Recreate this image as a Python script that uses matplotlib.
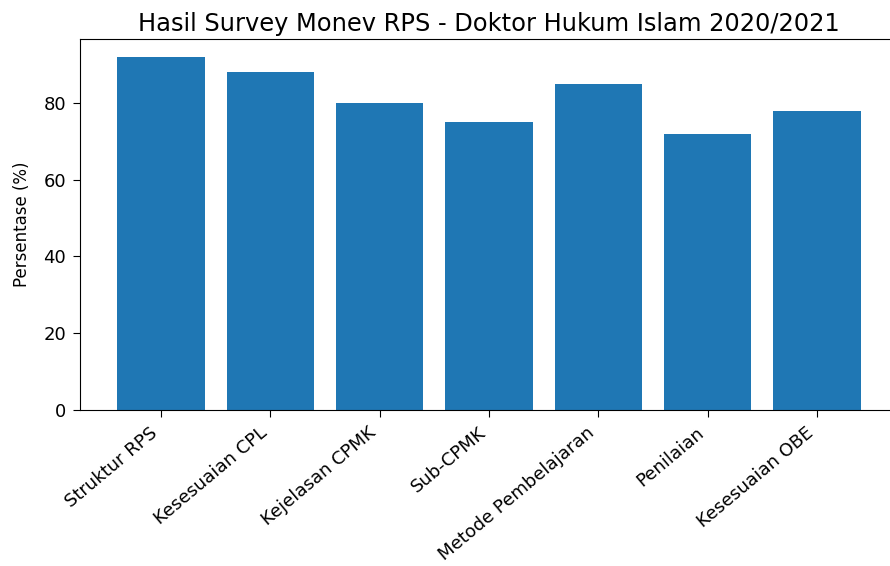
import matplotlib
matplotlib.use("Agg")
import matplotlib.pyplot as plt

categories = ["Struktur RPS", "Kesesuaian CPL", "Kejelasan CPMK", "Sub-CPMK",
              "Metode Pembelajaran", "Penilaian", "Kesesuaian OBE"]
values = [92, 88, 80, 75, 85, 72, 78]
title = "Hasil Survey Monev RPS - Doktor Hukum Islam 2020/2021"
ylabel = "Persentase (%)"

fig = plt.figure(figsize=(8.9, 5.66), dpi=100)
ax = fig.add_axes([0.0899, 0.2756, 0.919, 0.655])
ax.bar(categories, values, color="#1f77b4", width=0.8)
ax.set_title(title, fontsize=17.4, pad=6)
ax.set_ylabel(ylabel, fontsize=12)
ax.yaxis.set_label_coords(-0.060, 0.5)
ax.spines["right"].set_visible(False)
ax.tick_params(axis="both", labelsize=13, length=5, pad=5)
plt.setp(ax.get_xticklabels(), rotation=40, ha="right", rotation_mode="default")
fig.savefig("out.png", dpi=100)
